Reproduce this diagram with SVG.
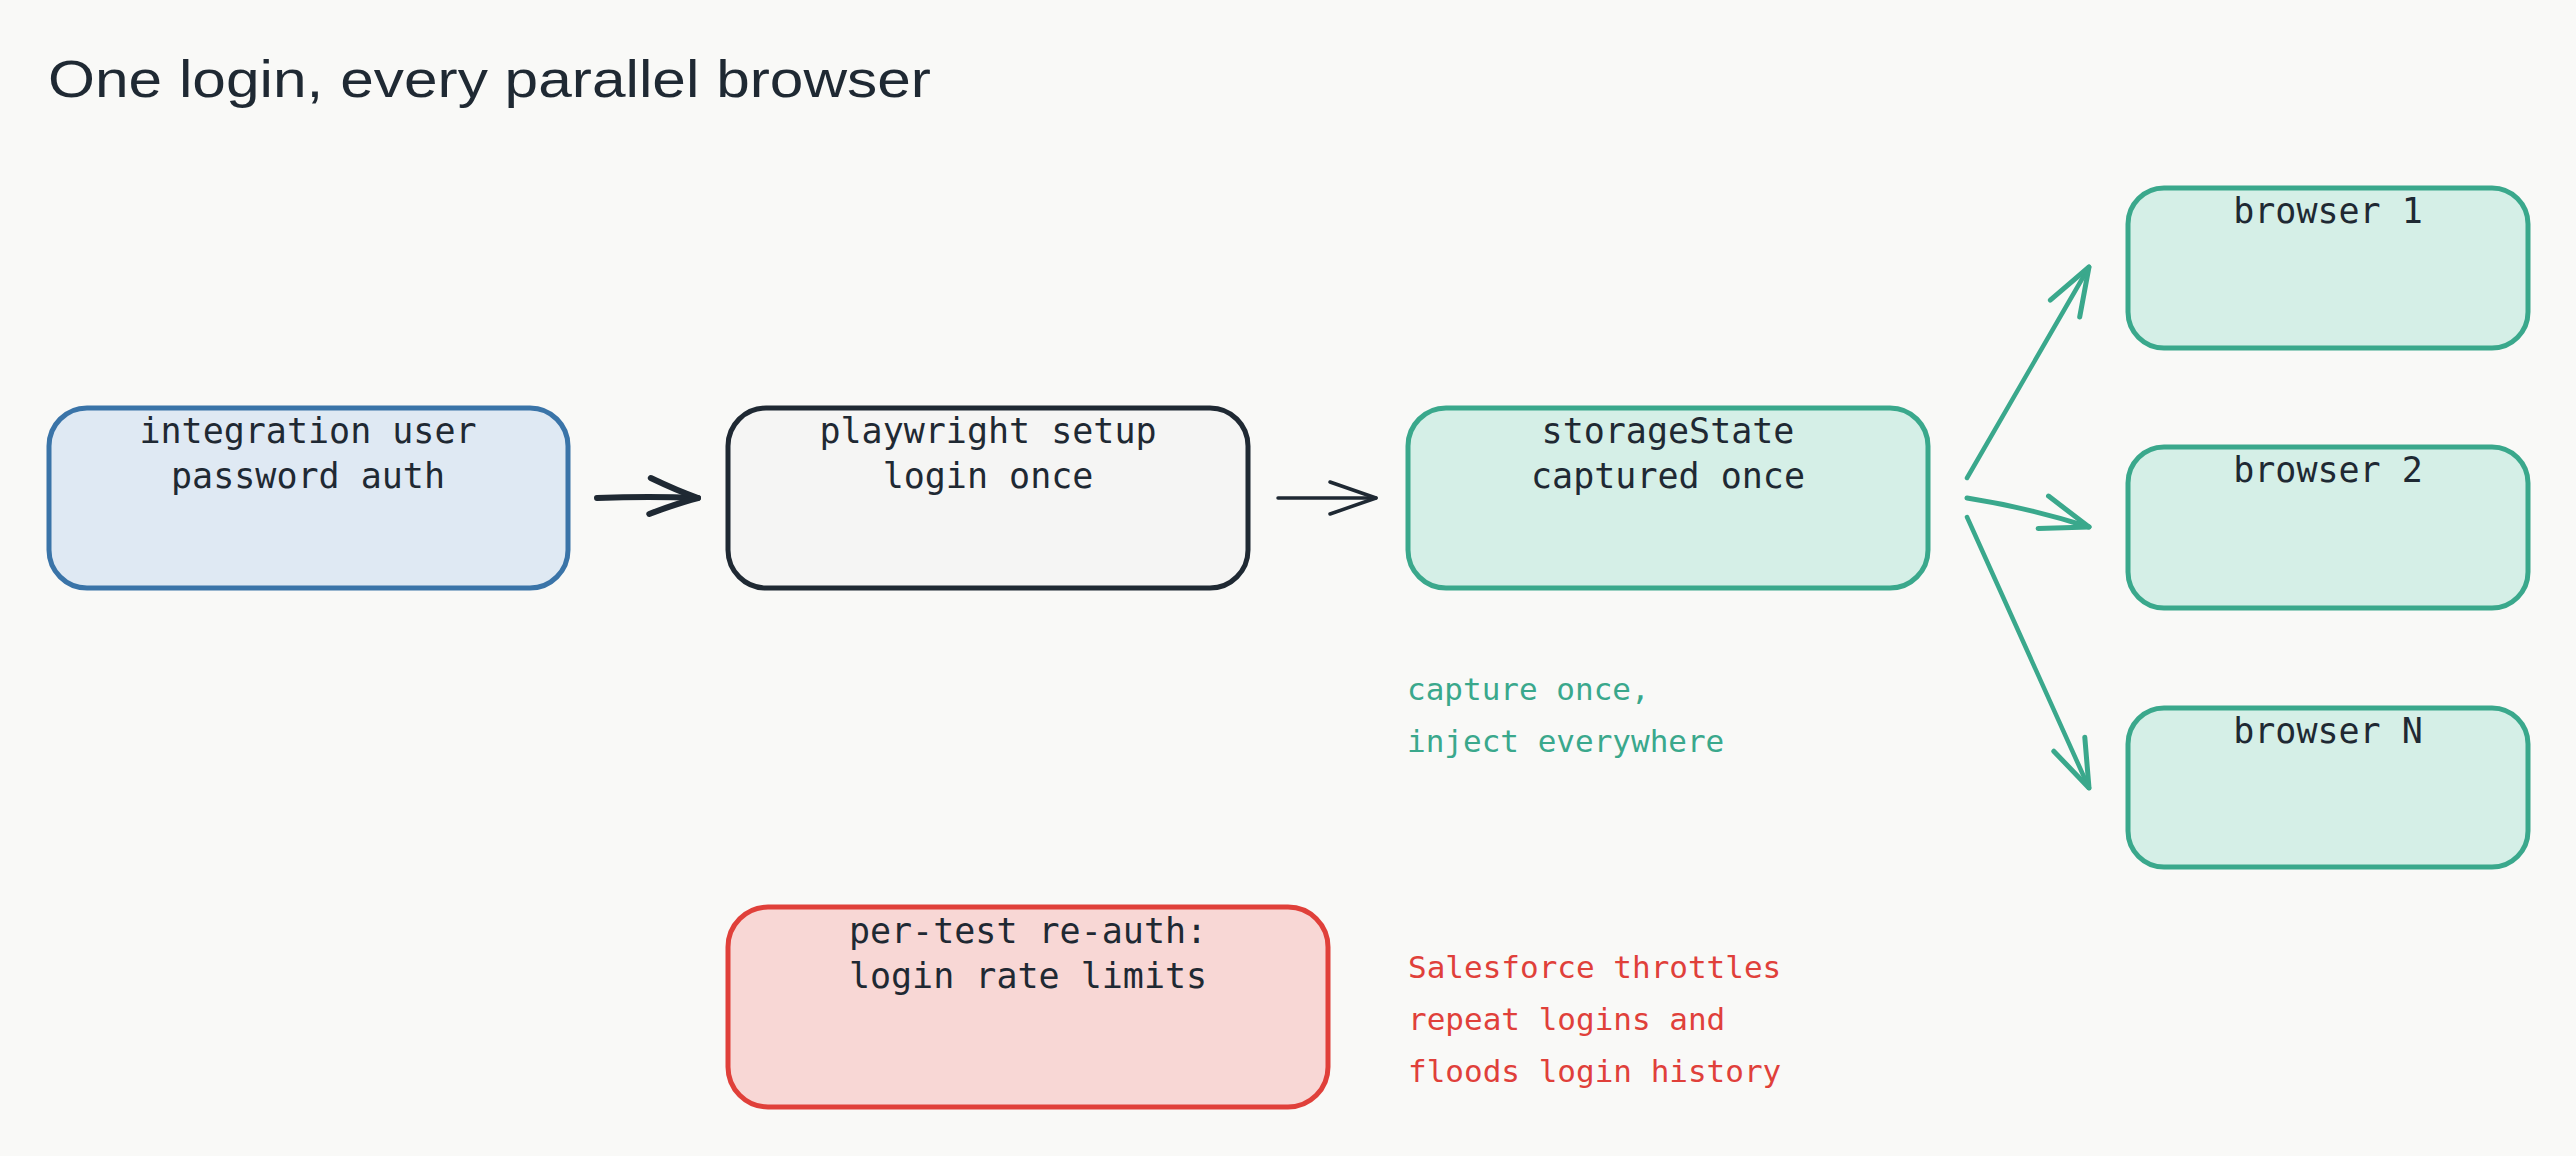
<svg xmlns="http://www.w3.org/2000/svg" width="2576" height="1156" viewBox="0 0 2576 1156">
  <style>
    .title { font-family: "Liberation Sans", "DejaVu Sans", sans-serif; font-size: 52px; fill: #1f2933; }
    .lbl { font-family: "DejaVu Sans Mono", "Liberation Mono", monospace; font-size: 35px; fill: #1f2933; text-anchor: middle; }
    .note { font-family: "DejaVu Sans Mono", "Liberation Mono", monospace; font-size: 31px; }
    .box { stroke-width: 5; stroke-linejoin: round; }
    .blue { fill: #dfe9f3; stroke: #3a74a8; }
    .grey { fill: #f5f5f4; stroke: #1f2933; }
    .green { fill: #d5efe7; stroke: #3aa88c; }
    .red { fill: #f8d7d5; stroke: #e0403a; }
    .conn { fill: none; stroke-linecap: round; stroke-linejoin: round; }
  </style>
  <defs>
    <marker id="ah-dark" viewBox="-55 -25 60 50" refX="0" refY="0" markerWidth="60" markerHeight="50" markerUnits="userSpaceOnUse" orient="auto">
      <path d="M -48 -18 Q -20 -6 0 0 Q -20 6 -48 18" fill="none" stroke="#1f2933" stroke-width="6" stroke-linecap="round" stroke-linejoin="round"/>
    </marker>
    <marker id="ah-dark-thin" viewBox="-55 -25 60 50" refX="0" refY="0" markerWidth="60" markerHeight="50" markerUnits="userSpaceOnUse" orient="auto">
      <path d="M -46 -16 L 0 0 L -46 16" fill="none" stroke="#1f2933" stroke-width="3.5" stroke-linecap="round" stroke-linejoin="round"/>
    </marker>
    <marker id="ah-green" viewBox="-55 -25 60 50" refX="0" refY="0" markerWidth="60" markerHeight="50" markerUnits="userSpaceOnUse" orient="auto">
      <path d="M -48 -17 L 0 0 L -48 17" fill="none" stroke="#3aa88c" stroke-width="5" stroke-linecap="round" stroke-linejoin="round"/>
    </marker>
  </defs>
  <rect x="0" y="0" width="2576" height="1156" fill="#f9f9f7"/>
  <text class="title" x="48" y="97" textLength="883" lengthAdjust="spacingAndGlyphs">One login, every parallel browser</text>

  <g id="connectors">
    <path class="conn" d="M 597 498 Q 650 496 698 498" stroke="#1f2933" stroke-width="6" marker-end="url(#ah-dark)"/>
    <path class="conn" d="M 1278 498 L 1376 498" stroke="#1f2933" stroke-width="3.5" marker-end="url(#ah-dark-thin)"/>
    <path class="conn" d="M 1967 478 L 2089 267" stroke="#3aa88c" stroke-width="4.5" marker-end="url(#ah-green)"/>
    <path class="conn" d="M 1967 498 Q 2030 508 2089 527" stroke="#3aa88c" stroke-width="5" marker-end="url(#ah-green)"/>
    <path class="conn" d="M 1967 517 L 2089 788" stroke="#3aa88c" stroke-width="4.5" marker-end="url(#ah-green)"/>
  </g>

  <g id="integration-user">
    <rect class="box blue" x="49" y="408" width="519" height="180" rx="38"/>
    <text class="lbl" x="308" y="443">integration user</text>
    <text class="lbl" x="308" y="488">password auth</text>
  </g>

  <g id="playwright-setup">
    <rect class="box grey" x="728" y="408" width="520" height="180" rx="38"/>
    <text class="lbl" x="988" y="443">playwright setup</text>
    <text class="lbl" x="988" y="488">login once</text>
  </g>

  <g id="storage-state">
    <rect class="box green" x="1408" y="408" width="520" height="180" rx="38"/>
    <text class="lbl" x="1668" y="443">storageState</text>
    <text class="lbl" x="1668" y="488">captured once</text>
  </g>

  <g id="browser-1">
    <rect class="box green" x="2128" y="188" width="400" height="160" rx="36"/>
    <text class="lbl" x="2328" y="223">browser 1</text>
  </g>

  <g id="browser-2">
    <rect class="box green" x="2128" y="447" width="400" height="161" rx="36"/>
    <text class="lbl" x="2328" y="482">browser 2</text>
  </g>

  <g id="browser-n">
    <rect class="box green" x="2128" y="708" width="400" height="159" rx="36"/>
    <text class="lbl" x="2328" y="743">browser N</text>
  </g>

  <g id="per-test-reauth">
    <rect class="box red" x="728" y="907" width="600" height="200" rx="40"/>
    <text class="lbl" x="1028" y="943">per-test re-auth:</text>
    <text class="lbl" x="1028" y="988">login rate limits</text>
  </g>

  <g id="note-capture">
    <text class="note" x="1407" y="700" fill="#3aa88c">capture once,</text>
    <text class="note" x="1407" y="752" fill="#3aa88c">inject everywhere</text>
  </g>

  <g id="note-salesforce">
    <text class="note" x="1408" y="978" fill="#e0403a">Salesforce throttles</text>
    <text class="note" x="1408" y="1030" fill="#e0403a">repeat logins and</text>
    <text class="note" x="1408" y="1082" fill="#e0403a">floods login history</text>
  </g>
</svg>
